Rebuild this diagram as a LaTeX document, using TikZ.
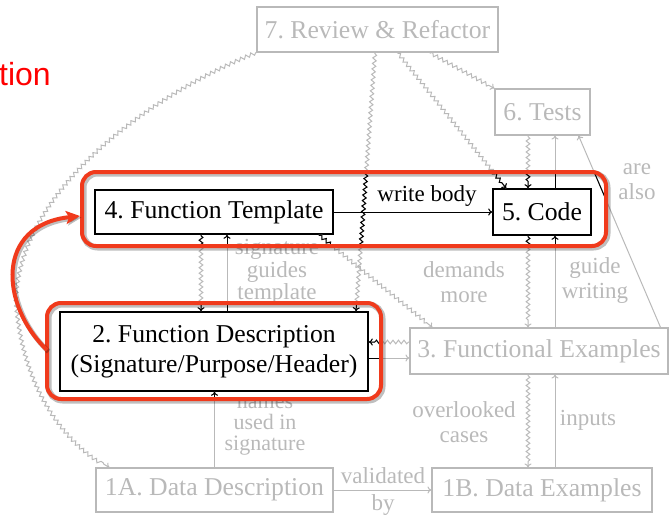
\documentclass[tikz,border=0pt]{standalone}
\usepackage{fontspec}
\setmainfont{Liberation Serif}
\newfontfamily\headsans{Liberation Sans}
\usetikzlibrary{decorations.pathmorphing,arrows.meta}
\frenchspacing

\definecolor{soft}{RGB}{185,185,185}
\definecolor{hlred}{RGB}{240,58,28}
\definecolor{headred}{RGB}{255,0,0}

\newcommand\recipefont{\fontsize{25.7}{30}\selectfont}
\newcommand\labelfont{\fontsize{23}{25}\selectfont}

\tikzset{
  box/.style={draw=soft, text=soft, line width=1.1pt, inner sep=0pt,
              font=\recipefont, align=center},
  keybox/.style={box, draw=black, text=black, line width=1.5pt},
  lbl/.style={text=soft, font=\labelfont, align=center, inner sep=0pt},
  edge/.style={draw=soft, line width=1pt, -{To[length=4pt,width=7pt]}},
  wavy/.style={edge, decorate,
               decoration={snake, amplitude=1.8pt, segment length=5.5pt,
                           pre length=1pt, post length=5pt}},
  frame/.style={inner sep=0pt, outer sep=0pt},
  hl/.style={draw=hlred, line width=4pt, rounded corners=14pt,
             preaction={draw=black, opacity=0.25, line width=6pt,
                        transform canvas={shift={(1.5pt,-1.5pt)}}}},
  hlarrow/.style={draw=hlred, line width=4pt,
                  -{Stealth[length=14pt,width=13pt,inset=3pt]},
                  preaction={draw=black, opacity=0.25, line width=5pt,
                             transform canvas={shift={(1.5pt,-1.5pt)}}}}
}

% every connector of the design recipe, drawn with the current edge styles
\newcommand\recipeedges{%
  % forward steps
  \draw[edge] (n4.east) -- (n5.west);
  \draw[edge] (xB |- n2.north) -- (xB |- n4.south);
  \draw[edge] (n1A.north) -- (n1A.north |- n2.south);
  \draw[edge] (yB -| n2.east) -- (yB -| n3.west);
  \draw[edge] (n1A.east) -- (n1A.east -| n1B.west);
  \draw[edge] (xR |- n1B.north) -- (xR |- n3.south);
  \draw[edge] (xR |- n3.north) -- (xR |- n5.south);
  \draw[edge] (xR |- n5.north) -- (xR |- n6.south);
  \draw[edge] ([xshift=-8pt]n3.north east) -- ([xshift=-12pt]n6.south east);
  % feedback loops
  \draw[wavy] (n7.south west) .. controls (150,95) and (20,190) .. (17,300)
              .. controls (22,380) and (60,440) .. ([xshift=14pt]n1A.north west);
  \draw[wavy] ([xshift=-2.5pt]n7.south) -- ([xshift=142pt]n2.north);
  \draw[wavy] ([xshift=20pt]n7.south) -- ([xshift=14pt]n5.north west);
  \draw[wavy] ([xshift=52pt]n7.south) -- (n6.north west);
  \draw[wavy] (xL |- n6.south) -- (xL |- n5.north);
  \draw[wavy] (xL |- n5.south) -- (xL |- n3.north);
  \draw[wavy] (xL |- n3.south) -- (xL |- n1B.north);
  \draw[wavy] ([xshift=-15pt]n4.south east) -- ([xshift=23pt]n3.north west);
  \draw[wavy] (xA |- n4.south) -- (xA |- n2.north);
  \draw[wavy] (yA -| n3.west) -- (yA -| n2.east);
}

\begin{document}
\begin{tikzpicture}[x=1pt,y=-1pt]
\useasboundingbox (0,0) rectangle (670,515);

% heading fragment
\node[text=headred, font=\headsans\fontsize{32}{36}\selectfont,
      anchor=base east, inner sep=0pt] (head) at (51,85) {tion};

% steps
\node[box, minimum width=241pt, minimum height=45pt] (n7) at (377.5,29.5) {7. Review \& Refactor};
\node[box, minimum width=95pt, minimum height=46pt] (n6) at (542.5,112) {6. Tests};
\node[keybox, minimum width=98pt, minimum height=46pt] (n5) at (542,212) {5. Code};
\node[keybox, minimum width=238pt, minimum height=44pt] (n4) at (214,212) {4. Function Template};
\node[keybox, minimum width=308pt, minimum height=79pt] (n2) at (214,351.5)
  {2. Function Description\\(Signature/Purpose/Header)};
\node[box, minimum width=258pt, minimum height=46pt] (n3) at (539,351) {3. Functional Examples};
\node[box, minimum width=237pt, minimum height=44pt] (n1A) at (214.5,490) {1A. Data Description};
\node[box, minimum width=220pt, minimum height=44pt] (n1B) at (542,490) {1B. Data Examples};

% highlight frames (drawn at the end)
\node[frame, minimum width=524pt, minimum height=74pt] (hlA) at (344,209) {};
\node[frame, minimum width=334pt, minimum height=96pt] (hlB) at (214,351) {};

% guide lines for parallel connectors
\coordinate (xA) at (201,0);
\coordinate (xB) at (227,0);
\coordinate (xL) at (528,0);
\coordinate (xR) at (555,0);
\coordinate (yA) at (0,342);
\coordinate (yB) at (0,358);

\recipeedges

% connectors inside the highlighted frames turn black
\begin{scope}
  \clip[rounded corners=14pt] (hlA.south west) rectangle (hlA.north east)
                              (hlB.south west) rectangle (hlB.north east);
  \tikzset{edge/.style={draw=black, line width=1pt, -{To[length=4pt,width=7pt]}}}
  \recipeedges
\end{scope}

% edge labels
\node[lbl, text=black] (lwrite) at (427,196) {write body};
\node[lbl, font=\fontsize{23}{22.5}\selectfont] (lsig) at (277,272) {signature\\guides\\template};
\node[lbl] (ldem) at (464,282) {demands\\more};
\node[lbl] (lguide) at (595,280) {guide\\writing};
\node[lbl] (lalso) at (637,182) {are\\also};
\node[lbl, font=\fontsize{22}{21}\selectfont] (lnames) at (265,427) {names\\used in\\signature};
\node[lbl] (lover) at (464,422) {overlooked\\cases};
\node[lbl] (linp) at (588,420) {inputs};
\node[lbl, font=\fontsize{23}{27}\selectfont] (lval) at (383,491) {validated\\by};

% highlight frames and the jump between them
\draw[hl] (hlA.south west) rectangle (hlA.north east);
\draw[hl] (hlB.south west) rectangle (hlB.north east);
\draw[hlarrow] ([yshift=1pt]hlB.west) .. controls (0,305) and (-5,225) .. ([shift={(-2,7)}]hlA.west);
\end{tikzpicture}
\end{document}
